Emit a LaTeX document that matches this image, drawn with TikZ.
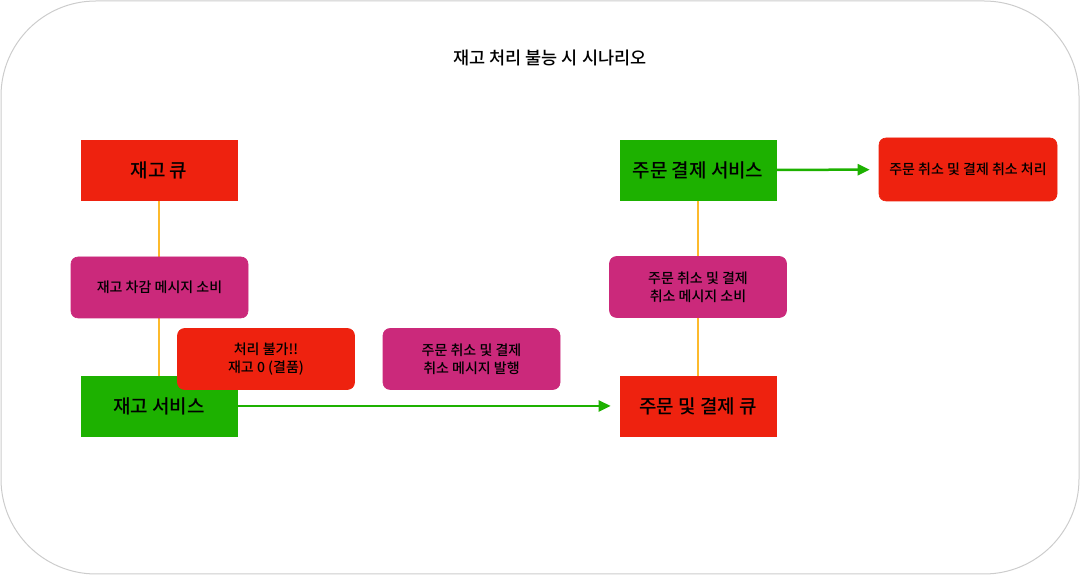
\documentclass[tikz,border=0pt]{standalone}
\usepackage{fontspec}
\setmainfont{Noto Sans CJK KR Medium}
\usetikzlibrary{positioning,arrows.meta,backgrounds}
\definecolor{queuered}{HTML}{EE220F}
\definecolor{svcgreen}{HTML}{1DB100}
\definecolor{msgmagenta}{HTML}{CB297B}
\definecolor{linkorange}{HTML}{FDBA2C}
\definecolor{framegray}{HTML}{CCCCCC}
\begin{document}
\begin{tikzpicture}[
    x=1pt, y=1pt,
    >=Triangle,
    every node/.style={font=\fontsize{14}{18}\selectfont, text=black},
    bigbox/.style={
        fill=#1, draw=#1, line width=0.6pt,
        minimum width=156pt, minimum height=60pt,
        inner sep=0pt, font=\fontsize{19}{23}\selectfont
    },
    smallbox/.style={
        fill=#1, draw=#1, rounded corners=7pt, line width=0.6pt,
        minimum width=177pt, minimum height=61pt,
        inner sep=0pt, align=center
    },
    link/.style={line width=1.5pt, color=linkorange},
    flow/.style={->, line width=2.5pt, color=svcgreen, shorten >=9pt,
        >={Triangle[length=12pt, width=11pt]}},
]
\useasboundingbox (0,0) rectangle (1080,575);
\draw[framegray, line width=1pt, rounded corners=95pt] (1,1) rectangle (1079,574);

% title
\node[font=\fontsize{17.5}{21}\selectfont] (title) at (550,517) {재고 처리 불능 시 시나리오};

% === Stock side ===
\node[bigbox=queuered] (stockq) at (159,405) {재고 큐};
\node[smallbox=msgmagenta] (stockmsg) at (159.5,287.5) {재고 차감 메시지 소비};
\node[bigbox=svcgreen] (stocksvc) at (159,169) {재고 서비스};
\node[smallbox=queuered] (fail) at (266,216) {처리 불가!!\\재고 0 (결품)};
\node[smallbox=msgmagenta] (cancelpub) at (471.5,216) {주문 취소 및 결제\\취소 메시지 발행};

% === Order / payment side ===
\node[bigbox=svcgreen] (paysvc) at (698,405) {주문 결제 서비스};
\node[smallbox=queuered, minimum width=178pt, minimum height=63pt] (cancelproc) at (968,405.5) {주문 취소 및 결제 취소 처리};
\node[smallbox=msgmagenta] (paymsg) at (698,288) {주문 취소 및 결제\\취소 메시지 소비};
\node[bigbox=queuered] (payq) at (698,169) {주문 및 결제 큐};

% queue links (behind the boxes)
\begin{scope}[on background layer]
\draw[link] (stockq) -- (stocksvc);
\draw[link] (paysvc) -- (payq);
\end{scope}

% flows
\draw[flow] (stocksvc) -- (payq);
\draw[flow] (paysvc) -- (cancelproc);

\end{tikzpicture}
\end{document}
